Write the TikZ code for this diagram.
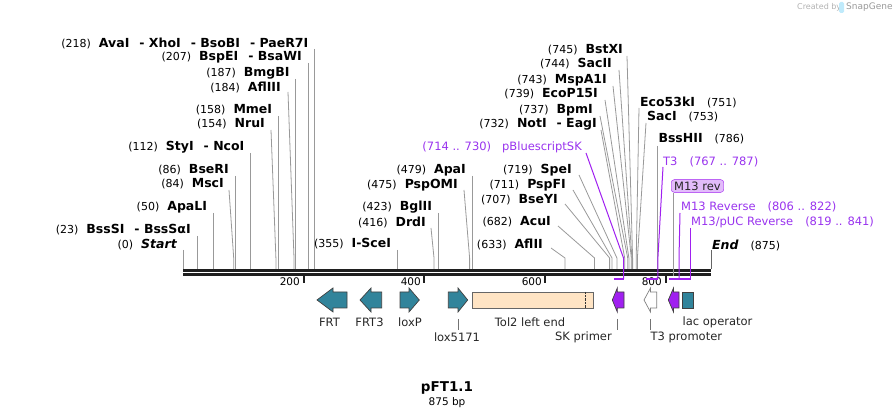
\documentclass[tikz,border=0pt]{standalone}
\usepackage{fontspec}
\setmainfont{DejaVu Sans}

\definecolor{featteal}{HTML}{31849B}
\definecolor{primerpurple}{HTML}{A020F0}
\definecolor{primertext}{HTML}{9933EE}
\definecolor{tolfill}{HTML}{FFE4C4}
\definecolor{leadergray}{HTML}{999999}

% fonts used by the labels
\newcommand\enzfont{\fontsize{12.5}{14}\selectfont\bfseries}
\newcommand\numfont{\fontsize{11}{13}\selectfont\mdseries}
\newcommand\sitenum[1]{{\numfont(#1)}\hspace{8pt}}
\newcommand\sitenumR[1]{\hspace{12pt}{\numfont(#1)}}
\newcommand\alsocut{\hspace{10pt}- }

\tikzset{
  enz/.style={font=\enzfont, inner sep=0pt},
  primer/.style={font=\fontsize{11.5}{13}\selectfont, text=primertext, inner sep=0pt},
  featlbl/.style={font=\fontsize{11.5}{13}\selectfont, text=black!85, inner sep=0pt},
  leader/.style={leadergray, line width=0.8pt},
  pleader/.style={primerpurple, line width=1pt},
  seqline/.style={black!88, line width=3pt},
  featshape/.style={draw=black!75, fill=featteal, line width=0.7pt, line join=miter},
  featleader/.style={black!55, line width=0.8pt}
}

\begin{document}
\begin{tikzpicture}[x=1pt,y=-1pt]
\useasboundingbox (0,0) rectangle (895,419);

% watermark
\node[font=\fontsize{8}{9}\selectfont, text=black!30, anchor=west, inner sep=0pt] (made) at (797,7) {Created by};
\fill[cyan!25, rounded corners=1.5pt] (839,2) rectangle (844,13);
\node[font=\fontsize{9}{10}\selectfont, text=black!40, anchor=west, inner sep=0pt] (snap) at (846,7) {SnapGene};

% site positions on the sequence (183 + bp * 0.60343)
\coordinate (c0) at (183,269);
\coordinate (c23) at (196.9,269);
\coordinate (c50) at (213.2,269);
\coordinate (c84) at (233.7,269);
\coordinate (c86) at (234.9,269);
\coordinate (c112) at (250.6,269);
\coordinate (c154) at (275.9,269);
\coordinate (c158) at (278.3,269);
\coordinate (c184) at (294.0,269);
\coordinate (c187) at (295.8,269);
\coordinate (c207) at (307.9,269);
\coordinate (c218) at (314.5,269);
\coordinate (c355) at (397.2,269);
\coordinate (c416) at (434.0,269);
\coordinate (c423) at (438.2,269);
\coordinate (c475) at (469.6,269);
\coordinate (c479) at (472.0,269);
\coordinate (c633) at (565.0,269);
\coordinate (c682) at (594.5,269);
\coordinate (c707) at (609.6,269);
\coordinate (c711) at (612.0,269);
\coordinate (c714) at (613.8,269);
\coordinate (c719) at (616.9,269);
\coordinate (c730) at (623.5,269);
\coordinate (c732) at (624.7,269);
\coordinate (c737) at (627.7,269);
\coordinate (c739) at (628.9,269);
\coordinate (c743) at (631.3,269);
\coordinate (c744) at (631.9,269);
\coordinate (c745) at (632.6,269);
\coordinate (c751) at (636.2,269);
\coordinate (c753) at (637.4,269);
\coordinate (c767) at (645.8,269);
\coordinate (c786) at (657.3,269);
\coordinate (c787) at (657.9,269);
\coordinate (c806) at (669.4,269);
\coordinate (c822) at (679.0,269);
\coordinate (c841) at (690.5,269);
\coordinate (c875) at (711,269);

% sequence lines
\draw[seqline] ([yshift=-1.5pt]c0) -- ([yshift=-1.5pt]c875);
\draw[seqline] ([yshift=-5.5pt]c0) -- ([yshift=-5.5pt]c875);

% ruler ticks
\draw[black!88, line width=2pt] (303.7,276) -- (303.7,283);
\draw[black!88, line width=2pt] (424.4,276) -- (424.4,283);
\draw[black!88, line width=2pt] (545.1,276) -- (545.1,283);
\draw[black!88, line width=2pt] (665.7,276) -- (665.7,283);
\node[font=\fontsize{10.5}{12}\selectfont, anchor=east, inner sep=0pt] (t200) at (300,282) {200};
\node[font=\fontsize{10.5}{12}\selectfont, anchor=east, inner sep=0pt] (t400) at (421,282) {400};
\node[font=\fontsize{10.5}{12}\selectfont, anchor=east, inner sep=0pt] (t600) at (542,282) {600};
\node[font=\fontsize{10.5}{12}\selectfont, anchor=east, inner sep=0pt] (t800) at (662,282) {800};

% enzymes, left part
\node[enz, anchor=east] (start) at (177,245) {\sitenum{0}\itshape Start};
\node[enz, anchor=east] (bsssi) at (190.9,230) {\sitenum{23}BssSI\alsocut BssSαI};
\node[enz, anchor=east] (apali) at (207.2,207) {\sitenum{50}ApaLI};
\node[enz, anchor=east] (msci) at (224,184) {\sitenum{84}MscI};
\node[enz, anchor=east] (bseri) at (228.9,170) {\sitenum{86}BseRI};
\node[enz, anchor=east] (styi) at (244.6,147) {\sitenum{112}StyI\alsocut NcoI};
\node[enz, anchor=east] (nrui) at (265,124) {\sitenum{154}NruI};
\node[enz, anchor=east] (mmei) at (272.3,110) {\sitenum{158}MmeI};
\node[enz, anchor=east] (afliii) at (281,87) {\sitenum{184}AflIII};
\node[enz, anchor=east] (bmgbi) at (289.8,73) {\sitenum{187}BmgBI};
\node[enz, anchor=east] (bspei) at (301.9,57) {\sitenum{207}BspEI\alsocut BsaWI};
\node[enz, anchor=east] (avai) at (308.5,43) {\sitenum{218}AvaI\alsocut XhoI\alsocut BsoBI\alsocut PaeR7I};
\node[enz, anchor=east] (iscei) at (391.2,244) {\sitenum{355}I-SceI};
\node[enz, anchor=east] (drdi) at (426,222) {\sitenum{416}DrdI};
\node[enz, anchor=east] (bglii) at (432.2,207) {\sitenum{423}BglII};
\node[enz, anchor=east] (pspomi) at (458,185) {\sitenum{475}PspOMI};
\node[enz, anchor=east] (apai) at (466,170) {\sitenum{479}ApaI};

% leaders, left part
\draw[leader] ([shift={(6,5)}]start.east) -- (c0);
\draw[leader] ([shift={(6,6)}]bsssi.east) -- (c23);
\draw[leader] ([shift={(6,6)}]apali.east) -- (c50);
\draw[leader] ([shift={(5,6)}]msci.east) -- ([yshift=11pt]c84) -- (c84);
\draw[leader] ([shift={(6,6)}]bseri.east) -- (c86);
\draw[leader] ([shift={(6,6)}]styi.east) -- (c112);
\draw[leader] ([shift={(6,6)}]nrui.east) -- ([yshift=11pt]c154) -- (c154);
\draw[leader] ([shift={(6,6)}]mmei.east) -- (c158);
\draw[leader] ([shift={(7,5)}]afliii.east) -- ([yshift=11pt]c184) -- (c184);
\draw[leader] ([shift={(6,6)}]bmgbi.east) -- (c187);
\draw[leader] ([shift={(6,6)}]bspei.east) -- (c207);
\draw[leader] ([shift={(6,6)}]avai.east) -- (c218);
\draw[leader] ([shift={(6,6)}]iscei.east) -- (c355);
\draw[leader] ([shift={(5,6)}]drdi.east) -- ([yshift=11pt]c416) -- (c416);
\draw[leader] ([shift={(6,6)}]bglii.east) -- (c423);
\draw[leader] ([shift={(6,5)}]pspomi.east) -- ([yshift=11pt]c475) -- (c475);
\draw[leader] ([shift={(6,6)}]apai.east) -- (c479);

% enzymes, right part
\node[enz, anchor=east] (aflii) at (543,244) {\sitenum{633}AflII};
\node[enz, anchor=east] (acui) at (551,222) {\sitenum{682}AcuI};
\node[enz, anchor=east] (bseyi) at (558,200) {\sitenum{707}BseYI};
\node[enz, anchor=east] (pspfi) at (566,185) {\sitenum{711}PspFI};
\node[enz, anchor=east] (spei) at (572,170) {\sitenum{719}SpeI};
\node[enz, anchor=east] (noti) at (597,124) {\sitenum{732}NotI\alsocut EagI};
\node[enz, anchor=east] (bpmi) at (593,110) {\sitenum{737}BpmI};
\node[enz, anchor=east] (ecop) at (598,94) {\sitenum{739}EcoP15I};
\node[enz, anchor=east] (mspa) at (607,80) {\sitenum{743}MspA1I};
\node[enz, anchor=east] (sacii) at (612,64) {\sitenum{744}SacII};
\node[enz, anchor=east] (bstxi) at (623,50) {\sitenum{745}BstXI};
\node[enz, anchor=west] (eco53) at (640,102) {Eco53kI\sitenumR{751}};
\node[enz, anchor=west] (saci) at (647,117) {SacI\sitenumR{753}};
\node[enz, anchor=west] (bsshii) at (658.3,139) {BssHII\sitenumR{786}};
\node[enz, anchor=west] (stop) at (712,245) {\itshape End\upshape\sitenumR{875}};

% leaders, right part
\draw[leader] ([shift={(8,4)}]aflii.east) -- ([yshift=11pt]c633) -- (c633);
\draw[leader] ([shift={(7,4)}]acui.east) -- ([yshift=11pt]c682) -- (c682);
\draw[leader] ([shift={(7,4)}]bseyi.east) -- ([yshift=11pt]c707) -- (c707);
\draw[leader] ([shift={(7,5)}]pspfi.east) -- ([yshift=11pt]c711) -- (c711);
\draw[leader] ([shift={(7,5)}]spei.east) -- ([yshift=11pt]c719) -- (c719);
\draw[leader] ([shift={(4,6)}]noti.east) -- ([yshift=11pt]c732) -- (c732);
\draw[leader] ([shift={(7,6)}]bpmi.east) -- ([yshift=11pt]c737) -- (c737);
\draw[leader] ([shift={(7,6)}]ecop.east) -- ([yshift=11pt]c739) -- (c739);
\draw[leader] ([shift={(6,6)}]mspa.east) -- ([yshift=11pt]c743) -- (c743);
\draw[leader] ([shift={(7,6)}]sacii.east) -- ([yshift=11pt]c744) -- (c744);
\draw[leader] ([shift={(4,6)}]bstxi.east) -- ([yshift=11pt]c745) -- (c745);
\draw[leader] ([shift={(-1,6)}]eco53.west) -- ([yshift=11pt]c751) -- (c751);
\draw[leader] ([shift={(-1,6)}]saci.west) -- ([yshift=11pt]c753) -- (c753);
\draw[leader] ([shift={(-1,7)}]bsshii.west) -- (c786);
\draw[leader, black!60] ([shift={(-1,5)}]stop.west) -- (c875);

% primer sites
\node[primer, anchor=east] (pbsk) at (582,147) {(714 .. 730)\hspace{11pt}pBluescriptSK};
\node[primer, anchor=west] (t3) at (663,162) {T3\hspace{12pt}(767 .. 787)};
\node[font=\fontsize{11.5}{13}\selectfont, text=black!85, fill=primerpurple!30, draw=primerpurple,
  rounded corners=3pt, inner xsep=3pt, inner ysep=2pt, anchor=west] (m13box) at (671,186) {M13 rev};
\node[primer, anchor=west] (m13r) at (681,207) {M13 Reverse\hspace{12pt}(806 .. 822)};
\node[primer, anchor=west] (m13puc) at (691,222) {M13/pUC Reverse\hspace{12pt}(819 .. 841)};
\draw[pleader] ([shift={(4,6)}]pbsk.east) -- ([yshift=11pt]c730) -- ([yshift=-10pt]c730);
\draw[pleader] ([shift={(0,5)}]t3.west) -- ([yshift=11pt]c787) -- ([yshift=-10pt]c787);
\draw[leader] ([xshift=2.5pt]m13box.south west) -- ++(0,83);
\draw[pleader] ([shift={(-1,6)}]m13r.west) -- ([yshift=11pt]c822) -- ([yshift=-10pt]c822);
\draw[pleader] ([shift={(-0.5,6)}]m13puc.west) -- ([yshift=-10pt]c841);
\draw[primerpurple, line width=2pt] ([yshift=-10pt]c714) -- ([yshift=-10pt]c730);
\draw[primerpurple, line width=2pt] ([yshift=-10pt]c767) -- ([yshift=-10pt]c787);
\draw[primerpurple, line width=2pt] ([yshift=-10pt]c806) -- ([yshift=-10pt]c841);

% features
\draw[featshape] (317,300) -- (333,288) -- (333,292) -- (347,292) -- (347,308) -- (333,308) -- (333,312) -- cycle; % FRT
\draw[featshape] (360,300) -- (371,288) -- (371,292) -- (381.7,292) -- (381.7,308) -- (371,308) -- (371,312) -- cycle; % FRT3
\draw[featshape] (419.3,300) -- (409,288) -- (409,292) -- (400,292) -- (400,308) -- (409,308) -- (409,312) -- cycle; % loxP
\draw[featshape] (467.7,300) -- (458,288) -- (458,292) -- (448.3,292) -- (448.3,308) -- (458,308) -- (458,312) -- cycle; % lox5171
\draw[featshape, fill=tolfill, draw=black!60] (472.3,292) rectangle (593.3,308); % Tol2
\draw[densely dotted, black!80] (585.3,292) -- (585.3,308);
\draw[featshape, fill=primerpurple] (612.3,300) -- (617.3,288) -- (617.3,292) -- (624,292) -- (624,308) -- (617.3,308) -- (617.3,312) -- cycle; % SK primer
\draw[featshape, fill=white, draw=black!50] (644,300) -- (650.5,288) -- (650.5,292) -- (656.7,292) -- (656.7,308) -- (650.5,308) -- (650.5,312) -- cycle; % T3 promoter
\draw[featshape, fill=primerpurple] (668.3,300) -- (673.5,288) -- (673.5,292) -- (679,292) -- (679,308) -- (673.5,308) -- (673.5,312) -- cycle; % M13 rev
\draw[featshape] (682.3,292) rectangle (693.3,308); % lac operator
\coordinate (lox5171) at (458.3,319);
\coordinate (skp) at (617.3,319);
\coordinate (t3p) at (650.7,319);

% feature labels
\node[featlbl] (frtl) at (329.5,322) {FRT};
\node[featlbl] (frt3l) at (369.5,322) {FRT3};
\node[featlbl] (loxpl) at (410,322) {loxP};
\node[featlbl] (tol2l) at (530,322) {Tol2 left end};
\node[featlbl, anchor=west] (lacopl) at (682.5,322) {lac operator};
\node[featlbl] (lox5171l) at (457,337.5) {lox5171};
\node[featlbl, anchor=east] (skpl) at (612,337.5) {SK primer};
\node[featlbl, anchor=west] (t3pl) at (650.5,337.5) {T3 promoter};
\draw[featleader] (lox5171) -- ++(0,11);
\draw[featleader] (skp) -- ++(0,11);
\draw[featleader] (t3p) -- ++(0,11);

% title
\node[font=\fontsize{13.5}{15}\selectfont\bfseries, inner sep=0pt] (title) at (447,388) {pFT1.1};
\node[font=\fontsize{10.5}{12}\selectfont, inner sep=0pt] (size) at (447,403) {875 bp};
\end{tikzpicture}
\end{document}
